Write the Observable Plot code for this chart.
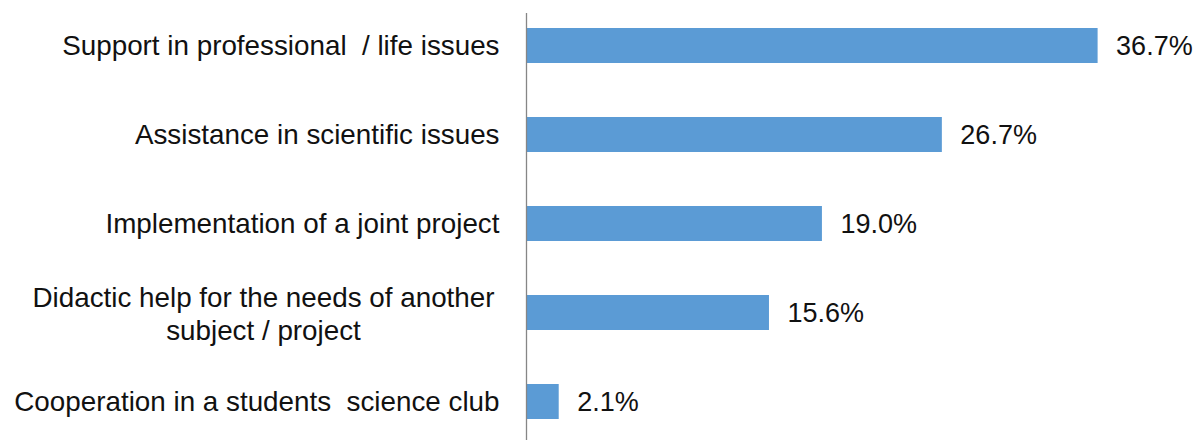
<!DOCTYPE html>
<html>
<head>
<meta charset="utf-8">
<script src="https://cdn.jsdelivr.net/npm/d3@7"></script>
<script src="https://cdn.jsdelivr.net/npm/@observablehq/plot@0.6"></script>
<style>
  html, body { margin: 0; padding: 0; background: #fff; }
  #chart svg { display: block; }
</style>
</head>
<body>
<div id="chart"></div>
<script>
const categories = [
  "Support in professional  / life issues",
  "Assistance in scientific issues",
  "Implementation of a joint project",
  "Didactic help for the needs of another\nsubject / project",
  "Cooperation in a students  science club"
];
const values = [36.7, 26.7, 19.0, 15.6, 2.1];
const valueLabels = ["36.7%", "26.7%", "19.0%", "15.6%", "2.1%"];

const data = categories.map((c, i) => ({category: c, value: values[i], label: valueLabels[i], multi: c.includes("\n")}));

const font = "'Liberation Sans', Arial, sans-serif";
const fs = 27;
const fsCat = 27.8;

const chart = Plot.plot({
  width: 1195,
  height: 440,
  marginLeft: 526,
  marginRight: 46,
  marginTop: 13,
  marginBottom: 0,
  style: {fontFamily: font, fontSize: fs + "px", color: "#111", background: "#fff"},
  x: {domain: [0, 40], axis: null},
  y: {domain: categories, range: [0, 447.5], paddingInner: 0.609, paddingOuter: 0.3045, axis: null},
  marks: [
    Plot.barX(data, {x: "value", y: "category", fill: "#5b9bd5"}),
    Plot.ruleX([0], {stroke: "#868686", strokeWidth: 1.3}),
    Plot.text(data.filter(d => !d.multi), {
      x: 0, y: "category", text: "category", textAnchor: "end", dx: -27,
      fill: "#111", fontSize: fsCat, lineAnchor: "middle"
    }),
    Plot.text(data.filter(d => d.multi), {
      x: 0, y: "category", text: "category", textAnchor: "middle", dx: -263,
      fill: "#111", fontSize: fsCat, lineAnchor: "middle", lineHeight: 1.2
    }),
    Plot.text(data, {
      x: "value", y: "category", text: "label", textAnchor: "start", dx: 18,
      fill: "#111", fontSize: fs, lineAnchor: "middle"
    })
  ]
});
document.getElementById("chart").appendChild(chart);
</script>
</body>
</html>
